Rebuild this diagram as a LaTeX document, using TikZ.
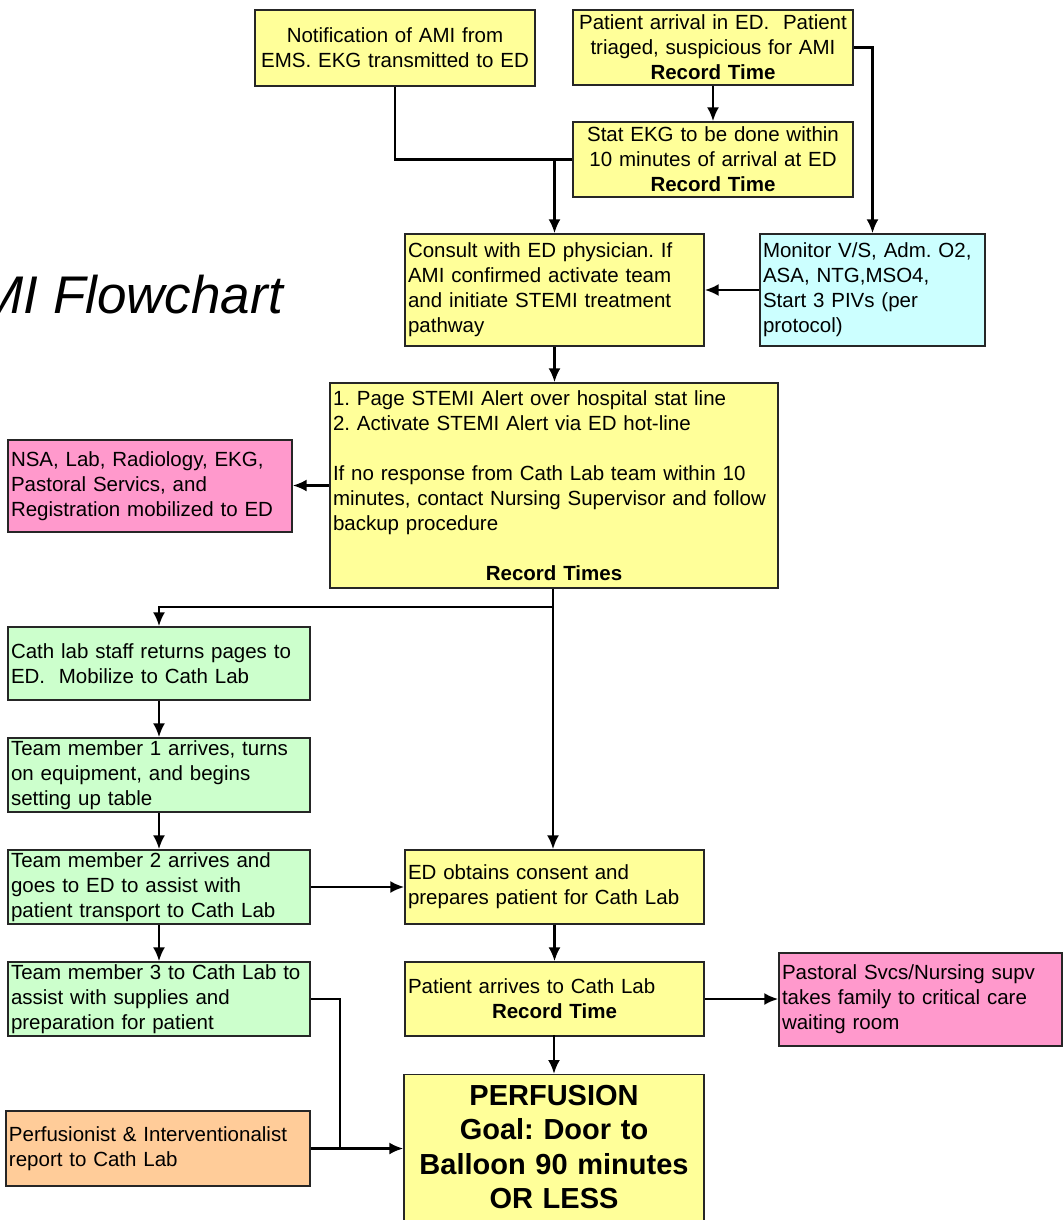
\documentclass[tikz,border=0pt]{standalone}
\usepackage{fontspec}
\setmainfont{Liberation Sans}
\usetikzlibrary{arrows.meta}
\definecolor{boxyellow}{HTML}{FFFF99}
\definecolor{boxcyan}{HTML}{CCFFFF}
\definecolor{boxpink}{HTML}{FF99CC}
\definecolor{boxgreen}{HTML}{CCFFCC}
\definecolor{boxorange}{HTML}{FFCC99}
\newcommand{\boxfont}{\fontsize{20.5}{25}\selectfont\frenchspacing}
\newcommand{\goalfont}{\fontsize{29}{34.5}\selectfont\bfseries\frenchspacing}
\newcommand{\titlefont}{\fontsize{53}{60}\selectfont\itshape}

\begin{document}
\begin{tikzpicture}[x=1pt,y=-1pt,
  box/.style={draw=black!85,line width=1.3pt,inner xsep=3pt,inner ysep=2pt,font=\boxfont},
  yellowbox/.style={box,fill=boxyellow},
  cyanbox/.style={box,fill=boxcyan},
  pinkbox/.style={box,fill=boxpink},
  greenbox/.style={box,fill=boxgreen},
  orangebox/.style={box,fill=boxorange},
  wire/.style={line width=2.6pt},
  flow/.style={wire,-{Latex[length=14pt,width=12pt]}}]
\useasboundingbox (0,0) rectangle (1063,1220);
\clip (0,0) rectangle (1063,1220);
% Title, cut at the left edge
\node[anchor=base east,font=\titlefont,inner sep=0pt] (title) at (283,313) {STEMI Flowchart};
% Drawing boxes
% Box 1: EMS notification
\node[yellowbox,align=center,text width=274pt,minimum height=76pt] (notif) at (395,48) {Notification of AMI from\\EMS. EKG transmitted to ED};
% Box 2: arrival in ED
\node[yellowbox,align=center,text width=274pt,minimum height=75pt] (arrival) at (713,47.5) {Patient arrival in ED.\ \ Patient\\triaged, suspicious for AMI\\\textbf{Record Time}};
% Box 3: stat EKG
\node[yellowbox,align=center,text width=274pt,minimum height=75pt] (statekg) at (713,159.5) {Stat EKG to be done within\\10 minutes of arrival at ED\\\textbf{Record Time}};
% Box 4: consult
\node[yellowbox,align=left,text width=293pt,minimum height=112pt] (consult) at (554.5,290) {Consult with ED physician. If\\AMI confirmed activate team\\and initiate STEMI treatment\\pathway};
% Box 5: monitor
\node[cyanbox,align=left,text width=219pt,minimum height=112pt] (monitor) at (872.5,290) {Monitor V/S, Adm. O2,\\ASA, NTG,MSO4,\\Start 3 PIVs (per\\protocol)};
% Box 6: STEMI alert
\node[yellowbox,align=left,text width=442pt,minimum height=205pt] (page) at (554,485.5) {1. Page STEMI Alert over hospital stat line\\2. Activate STEMI Alert via ED hot-line\\[25pt]If no response from Cath Lab team within 10\\minutes, contact Nursing Supervisor and follow\\backup procedure\\[25pt]\makebox[\linewidth][c]{\bfseries Record Times}};
% Box 7: services mobilized
\node[pinkbox,align=left,text width=278pt,minimum height=92pt] (nsa) at (150,486) {NSA, Lab, Radiology, EKG,\\Pastoral Servics, and\\Registration mobilized to ED};
% Boxes 8-11: cath lab team
\node[greenbox,align=left,text width=296pt,minimum height=73pt] (cath) at (159,663.5) {Cath lab staff returns pages to\\ED.\ \ Mobilize to Cath Lab};
\node[greenbox,align=left,text width=296pt,minimum height=74pt] (tmone) at (159,775) {Team member 1 arrives, turns\\on equipment, and begins\\setting up table};
\node[greenbox,align=left,text width=296pt,minimum height=74pt] (tmtwo) at (159,887) {Team member 2 arrives and\\goes to ED to assist with\\patient transport to Cath Lab};
\node[greenbox,align=left,text width=296pt,minimum height=74pt] (tmthree) at (159,999) {Team member 3 to Cath Lab to\\assist with supplies and\\preparation for patient};
% Box 12: perfusionist
\node[orangebox,align=left,text width=298pt,minimum height=75pt] (perf) at (158,1148.5) {Perfusionist \& Interventionalist\\report to Cath Lab};
% Box 13: consent
\node[yellowbox,align=left,text width=293pt,minimum height=74pt] (consent) at (554.5,887) {ED obtains consent and\\prepares patient for Cath Lab};
% Box 14: arrives to cath lab
\node[yellowbox,align=left,text width=293pt,minimum height=74pt] (arrives) at (554.5,999) {Patient arrives to Cath Lab\\\makebox[\linewidth][c]{\bfseries Record Time}};
% Box 15: family
\node[pinkbox,align=left,text width=277pt,minimum height=93pt] (family) at (920.5,999.5) {Pastoral Svcs/Nursing supv\\takes family to critical care\\waiting room};
% Box 16: goal, runs off the bottom
\node[yellowbox,anchor=north,align=center,font=\goalfont,text width=294pt,inner ysep=10.5pt,text depth=125pt] (goal) at (554,1074) {PERFUSION\\Goal: Door to\\Balloon 90 minutes\\OR LESS};
% Done with boxes; drawing arrows
\coordinate (jekg) at (statekg.west -| consult.north);
\draw[wire] (notif.south) |- (jekg);
\draw[wire] (statekg.west) -- (jekg);
\draw[flow] (jekg) -- (jekg |- consult.north);
\draw[flow] (arrival.south) -- (statekg.north);
\draw[flow] (arrival.east) -| (monitor.north);
\draw[flow] (monitor.west) -- (consult.east);
\draw[flow] (consult.south) -- (consult.south |- page.north);
\draw[flow] (page.west) -- (page.west -| nsa.east);
% Split below the alert box
\coordinate (jpage) at (553,607);
\draw[flow] (page.south -| jpage) -- (jpage) -| (cath.north);
\draw[flow] (jpage) -- (jpage |- consent.north);
\draw[flow] (cath.south) -- (tmone.north);
\draw[flow] (tmone.south) -- (tmtwo.north);
\draw[flow] (tmtwo.south) -- (tmthree.north);
\draw[flow] (tmtwo.east) -- (consent.west);
\draw[flow] (consent.south) -- (arrives.north);
\draw[flow] (arrives.east) -- (arrives.east -| family.west);
\draw[flow] (arrives.south) -- (arrives.south -| goal.north) -- (goal.north);
% Join into the goal box
\coordinate (jgoal) at (340,1148.5);
\draw[wire] (tmthree.east) -| (jgoal);
\draw[flow] (perf.east) -- (perf.east -| goal.west);
% Done with arrows
\end{tikzpicture}
\end{document}
